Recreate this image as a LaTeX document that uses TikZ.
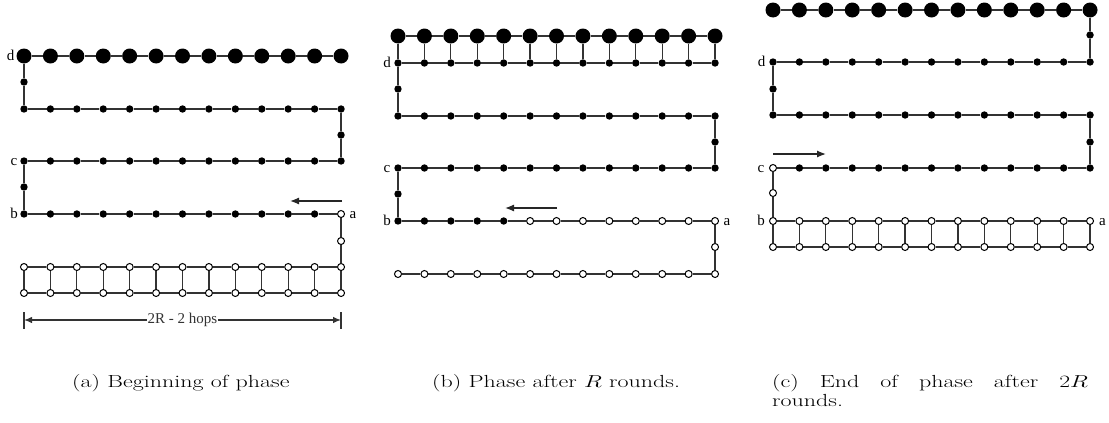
\documentclass[tikz,border=0pt]{standalone}
\usepackage{fontspec}
\newfontfamily\timesf{Liberation Serif}
\usetikzlibrary{arrows.meta,backgrounds}
\tikzset{
  big/.style={circle,fill=black,inner sep=0pt,minimum size=15pt},
  dot/.style={circle,fill=black,inner sep=0pt,minimum size=7.4pt},
  open/.style={circle,draw=black,fill=white,line width=1pt,inner sep=0pt,minimum size=7pt},
  edge/.style={line width=1.25pt,black!80},
  arr/.style={line width=1.25pt,black!85,-{Latex[length=9pt,width=7pt]}},
  lab/.style={font=\timesf\fontsize{15}{15}\selectfont,inner sep=0pt,anchor=base},
  captionnode/.style={inner sep=0pt,anchor=base west},
}
\newcommand{\captxt}[1]{\scalebox{1.37}[1]{\fontsize{17.5}{20}\selectfont #1}}
\begin{document}
\begin{tikzpicture}[x=1pt,y=-1pt]
\useasboundingbox (0,0) rectangle (1109,423);
\def\sp{26.42}
% ================= panel (a) =================
\foreach \i in {0,...,12}{
  \node[big]  (a0-\i) at ({24+\i*\sp},56) {};
  \node[dot]  (a1-\i) at ({24+\i*\sp},109) {};
  \node[dot]  (a2-\i) at ({24+\i*\sp},161) {};
  \node[open] (a4-\i) at ({24+\i*\sp},267) {};
  \node[open] (a5-\i) at ({24+\i*\sp},293) {};
}
\foreach \i in {0,...,11}{\node[dot] (a3-\i) at ({24+\i*\sp},214) {};}
\node[open] (a3-12) at ({24+12*\sp},214) {};
\node[dot]  (a01) at (24,82) {};
\node[dot]  (a12) at ({24+12*\sp},135) {};
\node[dot]  (a23) at (24,187) {};
\node[open] (a34) at ({24+12*\sp},241) {};
\begin{scope}[on background layer]
  \foreach \r in {0,...,5}{\foreach \i [count=\j from 1] in {0,...,11}{\draw[edge] (a\r-\i) -- (a\r-\j);}}
  \foreach \i in {0,...,12}{\draw[edge] (a4-\i) -- (a5-\i);}
  \draw[edge] (a0-0) -- (a01) -- (a1-0);
  \draw[edge] (a1-12) -- (a12) -- (a2-12);
  \draw[edge] (a2-0) -- (a23) -- (a3-0);
  \draw[edge] (a3-12) -- (a34) -- (a4-12);
\end{scope}
\node[lab] (la-d) at (10.5,60) {d};
\node[lab] (la-c) at (14,165) {c};
\node[lab] (la-b) at (14,218) {b};
\node[lab] (la-a) at (353,218) {a};
\coordinate (aA1) at (342,201);
\coordinate (aA2) at (290,201);
\draw[arr] (aA1) -- (aA2);
\coordinate (dL) at (24,320);
\coordinate (dR) at ({24+12*\sp},320);
\draw[edge] (dL) ++(0,-8) -- ++(0,17);
\draw[edge] (dR) ++(0,-8) -- ++(0,17);
\draw[edge,{Latex[length=8pt,width=6.5pt]}-{Latex[length=8pt,width=6.5pt]}] (dL) -- node[fill=white,inner sep=0.6pt,font=\timesf\fontsize{15}{15}\selectfont] (dimtext) {2R - 2 hops} (dR);
% ================= panel (b) =================
\foreach \i in {0,...,12}{
  \node[big]  (b0-\i) at ({398+\i*\sp},36) {};
  \node[dot]  (b1-\i) at ({398+\i*\sp},63) {};
  \node[dot]  (b2-\i) at ({398+\i*\sp},116) {};
  \node[dot]  (b3-\i) at ({398+\i*\sp},168) {};
  \node[open] (b5-\i) at ({398+\i*\sp},274) {};
}
\foreach \i in {0,...,4}{\node[dot] (b4-\i) at ({398+\i*\sp},221) {};}
\foreach \i in {5,...,12}{\node[open] (b4-\i) at ({398+\i*\sp},221) {};}
\node[dot]  (b12) at (398,89) {};
\node[dot]  (b23) at ({398+12*\sp},142) {};
\node[dot]  (b34) at (398,194) {};
\node[open] (b45) at ({398+12*\sp},247) {};
\begin{scope}[on background layer]
  \foreach \r in {0,...,5}{\foreach \i [count=\j from 1] in {0,...,11}{\draw[edge] (b\r-\i) -- (b\r-\j);}}
  \foreach \i in {0,...,12}{\draw[edge] (b0-\i) -- (b1-\i);}
  \draw[edge] (b1-0) -- (b12) -- (b2-0);
  \draw[edge] (b2-12) -- (b23) -- (b3-12);
  \draw[edge] (b3-0) -- (b34) -- (b4-0);
  \draw[edge] (b4-12) -- (b45) -- (b5-12);
\end{scope}
\node[lab] (lb-d) at (387,67) {d};
\node[lab] (lb-c) at (387,172) {c};
\node[lab] (lb-b) at (387,225) {b};
\node[lab] (lb-a) at (727,225) {a};
\coordinate (bA1) at (557,208);
\coordinate (bA2) at (505,208);
\draw[arr] (bA1) -- (bA2);
% ================= panel (c) =================
\foreach \i in {0,...,12}{
  \node[big]  (c0-\i) at ({773+\i*\sp},10) {};
  \node[dot]  (c1-\i) at ({773+\i*\sp},62) {};
  \node[dot]  (c2-\i) at ({773+\i*\sp},115) {};
  \node[open] (c4-\i) at ({773+\i*\sp},221) {};
  \node[open] (c5-\i) at ({773+\i*\sp},247) {};
}
\node[open] (c3-0) at (773,168) {};
\foreach \i in {1,...,12}{\node[dot] (c3-\i) at ({773+\i*\sp},168) {};}
\node[dot]  (c01) at ({773+12*\sp},35) {};
\node[dot]  (c12) at (773,89) {};
\node[dot]  (c23) at ({773+12*\sp},142) {};
\node[open] (c34) at (773,193) {};
\begin{scope}[on background layer]
  \foreach \r in {0,...,5}{\foreach \i [count=\j from 1] in {0,...,11}{\draw[edge] (c\r-\i) -- (c\r-\j);}}
  \foreach \i in {0,...,12}{\draw[edge] (c4-\i) -- (c5-\i);}
  \draw[edge] (c0-12) -- (c01) -- (c1-12);
  \draw[edge] (c1-0) -- (c12) -- (c2-0);
  \draw[edge] (c2-12) -- (c23) -- (c3-12);
  \draw[edge] (c3-0) -- (c34) -- (c4-0);
\end{scope}
\node[lab] (lc-d) at (761.5,66) {d};
\node[lab] (lc-c) at (761,172) {c};
\node[lab] (lc-b) at (761,225) {b};
\node[lab] (lc-a) at (1102.5,225) {a};
\coordinate (cA1) at (773,154);
\coordinate (cA2) at (826,154);
\draw[arr] (cA1) -- (cA2);
% ================= captions =================
\node[captionnode] (capa) at (72,387) {\captxt{(a) Beginning of phase}};
\node[captionnode] (capb) at (432,387) {\captxt{(b) Phase after $R$ rounds.}};
\node[captionnode] (capc) at (772,387) {\scalebox{1.37}[1]{\fontsize{17.5}{19}\selectfont\parbox[t]{230.5pt}{\makebox[230.5pt][s]{(c) End of phase after $2R$}\\rounds.}}};
\end{tikzpicture}
\end{document}
